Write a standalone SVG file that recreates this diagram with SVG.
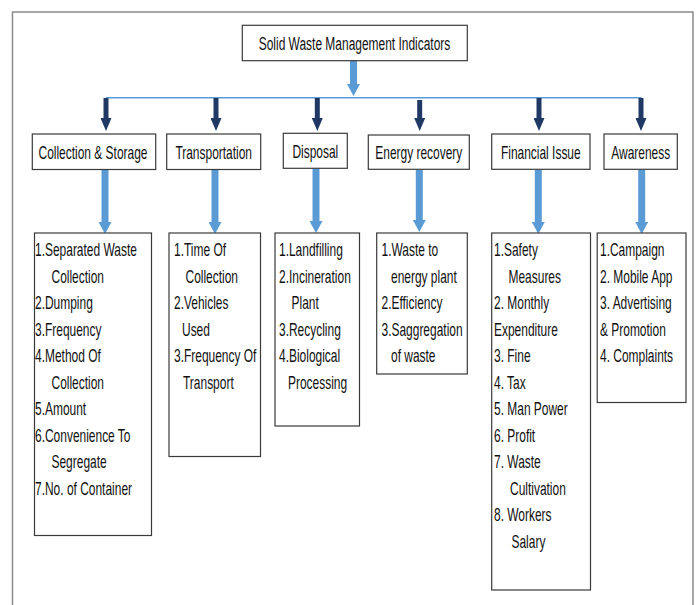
<svg xmlns="http://www.w3.org/2000/svg" width="698" height="605" viewBox="0 0 698 605">
<style>
.bx{fill:#fff;stroke:#3a3a3a;stroke-width:1.2}
.t{font-family:"Liberation Sans",Arial,sans-serif;font-size:18px;fill:#111}
.h{text-anchor:middle}
.dk{stroke:#1f3864;stroke-width:5;fill:none}
.lt{stroke:#5b9bd5;stroke-width:7;fill:none}
</style>
<defs>
<marker id="ad" viewBox="0 0 13 11" refX="0" refY="5.5" markerWidth="13" markerHeight="11" markerUnits="userSpaceOnUse" orient="auto"><path d="M0,0 L13,5.5 L0,11 Z" fill="#1f3864"/></marker>
<marker id="al" viewBox="0 0 12 13" refX="0" refY="6.5" markerWidth="12" markerHeight="13" markerUnits="userSpaceOnUse" orient="auto"><path d="M0,0 L12,6.5 L0,13 Z" fill="#5b9bd5"/></marker>
</defs>
<rect width="698" height="605" fill="#fff"/>
<rect x="12.5" y="12" width="680.5" height="610" fill="none" stroke="#8a8a8a" stroke-width="1.5"/>

<g id="connectors">
<line class="lt" x1="353.5" y1="61" x2="353.5" y2="84" marker-end="url(#al)"/>
<line x1="106" y1="97.7" x2="641.5" y2="97.7" stroke="#5b9bd5" stroke-width="1.5"/>
<line class="dk" x1="106" y1="98" x2="106" y2="118" marker-end="url(#ad)"/>
<line class="dk" x1="216" y1="98" x2="216" y2="118" marker-end="url(#ad)"/>
<line class="dk" x1="317.3" y1="98" x2="317.3" y2="118" marker-end="url(#ad)"/>
<line class="dk" x1="419.7" y1="100" x2="419.7" y2="118" marker-end="url(#ad)"/>
<line class="dk" x1="539" y1="98" x2="539" y2="118" marker-end="url(#ad)"/>
<line class="dk" x1="641" y1="98" x2="641" y2="118" marker-end="url(#ad)"/>
<line class="lt" x1="105" y1="170" x2="105" y2="222" marker-end="url(#al)"/>
<line class="lt" x1="215" y1="170" x2="215" y2="222" marker-end="url(#al)"/>
<line class="lt" x1="316" y1="169" x2="316" y2="221" marker-end="url(#al)"/>
<line class="lt" x1="419.3" y1="170" x2="419.3" y2="220" marker-end="url(#al)"/>
<line class="lt" x1="538.3" y1="170" x2="538.3" y2="222" marker-end="url(#al)"/>
<line class="lt" x1="641.7" y1="170" x2="641.7" y2="222" marker-end="url(#al)"/>
</g>

<g id="title">
<rect class="bx" x="242.3" y="25.3" width="225" height="35.4"/>
<text class="t h" style="font-size:19px" transform="translate(354.5,49.5) scale(0.63,1)">Solid Waste Management Indicators</text>
</g>

<g id="h-collection">
<rect class="bx" x="32.3" y="134" width="123.4" height="35.5"/>
<text class="t h" transform="translate(93,159) scale(0.665,1)">Collection &amp; Storage</text>
</g>
<g id="h-transportation">
<rect class="bx" x="166.7" y="134" width="94" height="35.5"/>
<text class="t h" transform="translate(213.7,159) scale(0.665,1)">Transportation</text>
</g>
<g id="h-disposal">
<rect class="bx" x="283.3" y="133.3" width="64" height="35"/>
<text class="t h" transform="translate(315.3,158) scale(0.665,1)">Disposal</text>
</g>
<g id="h-energy">
<rect class="bx" x="368.3" y="135" width="101" height="34.3"/>
<text class="t h" transform="translate(418.8,159.3) scale(0.665,1)">Energy recovery</text>
</g>
<g id="h-financial">
<rect class="bx" x="491.7" y="134" width="98.3" height="35.3"/>
<text class="t h" transform="translate(540.8,159) scale(0.665,1)">Financial Issue</text>
</g>
<g id="h-awareness">
<rect class="bx" x="604" y="134" width="73.3" height="35.3"/>
<text class="t h" transform="translate(640.7,159) scale(0.665,1)">Awareness</text>
</g>

<g id="l-collection">
<rect class="bx" x="34.5" y="233" width="117" height="302.5"/>
<text class="t" transform="translate(35,256) scale(0.665,1)">1.Separated Waste</text>
<text class="t" transform="translate(51.5,282.5) scale(0.665,1)">Collection</text>
<text class="t" transform="translate(35,309) scale(0.665,1)">2.Dumping</text>
<text class="t" transform="translate(35,335.5) scale(0.665,1)">3.Frequency</text>
<text class="t" transform="translate(35,362) scale(0.665,1)">4.Method Of</text>
<text class="t" transform="translate(51.5,388.5) scale(0.665,1)">Collection</text>
<text class="t" transform="translate(35,415) scale(0.665,1)">5.Amount</text>
<text class="t" transform="translate(35,441.5) scale(0.665,1)">6.Convenience To</text>
<text class="t" transform="translate(51.5,468) scale(0.665,1)">Segregate</text>
<text class="t" transform="translate(35,494.5) scale(0.665,1)">7.No. of Container</text>
</g>

<g id="l-transportation">
<rect class="bx" x="169" y="233" width="91.5" height="223.5"/>
<text class="t" transform="translate(174,256) scale(0.665,1)">1.Time Of</text>
<text class="t" transform="translate(185.5,282.5) scale(0.665,1)">Collection</text>
<text class="t" transform="translate(174,309) scale(0.665,1)">2.Vehicles</text>
<text class="t" transform="translate(182,335.5) scale(0.665,1)">Used</text>
<text class="t" transform="translate(174,362) scale(0.665,1)">3.Frequency Of</text>
<text class="t" transform="translate(183,388.5) scale(0.665,1)">Transport</text>
</g>

<g id="l-disposal">
<rect class="bx" x="275" y="233" width="84.5" height="193"/>
<text class="t" transform="translate(279,256) scale(0.665,1)">1.Landfilling</text>
<text class="t" transform="translate(279,282.5) scale(0.665,1)">2.Incineration</text>
<text class="t" transform="translate(291.5,309) scale(0.665,1)">Plant</text>
<text class="t" transform="translate(279,335.5) scale(0.665,1)">3.Recycling</text>
<text class="t" transform="translate(279,362) scale(0.665,1)">4.Biological</text>
<text class="t" transform="translate(288,388.5) scale(0.665,1)">Processing</text>
</g>

<g id="l-energy">
<rect class="bx" x="376.7" y="233" width="90.6" height="141"/>
<text class="t" transform="translate(381.5,256) scale(0.665,1)">1.Waste to</text>
<text class="t" transform="translate(391,282.5) scale(0.665,1)">energy plant</text>
<text class="t" transform="translate(381.5,309) scale(0.665,1)">2.Efficiency</text>
<text class="t" transform="translate(381.5,335.5) scale(0.665,1)">3.Saggregation</text>
<text class="t" transform="translate(391,362) scale(0.665,1)">of waste</text>
</g>

<g id="l-financial">
<rect class="bx" x="491.7" y="233" width="98.8" height="357"/>
<text class="t" transform="translate(494,256) scale(0.665,1)">1.Safety</text>
<text class="t" transform="translate(508.5,282.5) scale(0.665,1)">Measures</text>
<text class="t" transform="translate(494,309) scale(0.665,1)">2. Monthly</text>
<text class="t" transform="translate(494,335.5) scale(0.665,1)">Expenditure</text>
<text class="t" transform="translate(494,362) scale(0.665,1)">3. Fine</text>
<text class="t" transform="translate(494,388.5) scale(0.665,1)">4. Tax</text>
<text class="t" transform="translate(494,415) scale(0.665,1)">5. Man Power</text>
<text class="t" transform="translate(494,441.5) scale(0.665,1)">6. Profit</text>
<text class="t" transform="translate(494,468) scale(0.665,1)">7. Waste</text>
<text class="t" transform="translate(510,494.5) scale(0.665,1)">Cultivation</text>
<text class="t" transform="translate(494,521) scale(0.665,1)">8. Workers</text>
<text class="t" transform="translate(511.5,547.5) scale(0.665,1)">Salary</text>
</g>

<g id="l-awareness">
<rect class="bx" x="597.2" y="233" width="88.8" height="169.5"/>
<text class="t" transform="translate(600,256) scale(0.665,1)">1.Campaign</text>
<text class="t" transform="translate(600,282.5) scale(0.665,1)">2. Mobile App</text>
<text class="t" transform="translate(600,309) scale(0.665,1)">3. Advertising</text>
<text class="t" transform="translate(600,335.5) scale(0.665,1)">&amp; Promotion</text>
<text class="t" transform="translate(600,362) scale(0.665,1)">4. Complaints</text>
</g>
</svg>
